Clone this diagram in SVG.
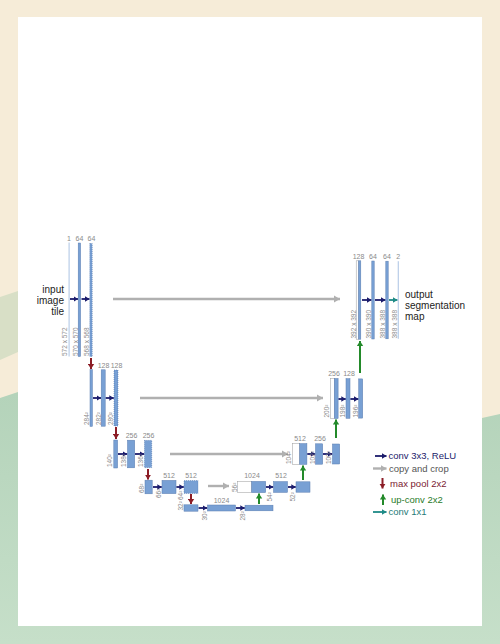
<svg xmlns="http://www.w3.org/2000/svg" width="500" height="644" viewBox="0 0 500 644">
<defs>
<linearGradient id="gr" x1="0" y1="0" x2="0" y2="1">
<stop offset="0" stop-color="#b4d3ba"/>
<stop offset="1" stop-color="#c6dfc9"/>
</linearGradient>
<marker id="mN" markerUnits="userSpaceOnUse" markerWidth="6" markerHeight="6" refX="4.5" refY="3" orient="auto"><path d="M0,0.3 L4.5,3 L0,5.7 z" fill="#1b1b6b"/></marker>
<marker id="mG" markerUnits="userSpaceOnUse" markerWidth="8" markerHeight="8" refX="6" refY="4" orient="auto"><path d="M0,0.5 L6,4 L0,7.5 z" fill="#b0b0b0"/></marker>
<marker id="mR" markerUnits="userSpaceOnUse" markerWidth="7" markerHeight="7" refX="5" refY="3.5" orient="auto"><path d="M0,0.3 L5,3.5 L0,6.7 z" fill="#8c1d26"/></marker>
<marker id="mU" markerUnits="userSpaceOnUse" markerWidth="7" markerHeight="7" refX="5" refY="3.5" orient="auto"><path d="M0,0.3 L5,3.5 L0,6.7 z" fill="#238a2a"/></marker>
<marker id="mT" markerUnits="userSpaceOnUse" markerWidth="6" markerHeight="6" refX="4.5" refY="3" orient="auto"><path d="M0,0.3 L4.5,3 L0,5.7 z" fill="#1e8a86"/></marker>
</defs>
<style>
.b{fill:#78a0d4;stroke:#5a7db0;stroke-width:0.5}
.l{fill:#b9cde8;stroke:none}
.w{fill:#ffffff;stroke:#9a9a9a;stroke-width:0.5}
.d{fill:#78a0d4;stroke:#3d64a0;stroke-width:0.6;stroke-dasharray:0.8 1.2}
.lbl{font-family:"Liberation Sans",Arial,sans-serif;font-size:7px;fill:#8a8a8a;text-anchor:middle}
.rl{font-family:"Liberation Sans",Arial,sans-serif;font-size:6.5px;fill:#8a8a8a}
.t{font-family:"Liberation Sans",Arial,sans-serif;font-size:10px;fill:#222}
.lg{font-family:"Liberation Sans",Arial,sans-serif;font-size:9.5px}
.an{stroke:#1b1b6b;stroke-width:1.8;fill:none;marker-end:url(#mN)}
.ag{stroke:#b0b0b0;stroke-width:2.4;fill:none;marker-end:url(#mG)}
.ar{stroke:#8c1d26;stroke-width:2;fill:none;marker-end:url(#mR)}
.au{stroke:#238a2a;stroke-width:2;fill:none;marker-end:url(#mU)}
.at{stroke:#1e8a86;stroke-width:1.8;fill:none;marker-end:url(#mT)}
</style>
<g id="background">
<rect x="0" y="0" width="500" height="644" fill="#f6ecd8"/>
<polygon points="0,297 18,291 80,300 18,352 0,360" fill="#d8dfc6"/>
<polygon points="0,398 18,392 250,420 482,418 500,414 500,644 0,644" fill="url(#gr)"/>
<rect x="18" y="17" width="464" height="609" fill="#ffffff"/>
</g>
<g id="connectors">
<line class="an" x1="70" y1="299" x2="78" y2="299"/>
<line class="an" x1="81.5" y1="299" x2="89.5" y2="299"/>
<line class="ag" x1="113" y1="299" x2="340" y2="299"/>
<line class="ar" x1="91" y1="358" x2="91" y2="369"/>
<line class="an" x1="93" y1="398" x2="101" y2="398"/>
<line class="an" x1="105.5" y1="398" x2="113.8" y2="398"/>
<line class="ag" x1="140" y1="398" x2="323" y2="398"/>
<line class="ar" x1="116" y1="427" x2="116" y2="439"/>
<line class="an" x1="118" y1="454" x2="127.3" y2="454"/>
<line class="an" x1="135" y1="454" x2="144.3" y2="454"/>
<line class="ag" x1="170" y1="454" x2="288" y2="454"/>
<line class="ar" x1="148" y1="469" x2="148" y2="479.5"/>
<line class="an" x1="153" y1="487" x2="161.8" y2="487"/>
<line class="an" x1="176.3" y1="487" x2="183.8" y2="487"/>
<line class="ag" x1="208" y1="486" x2="229" y2="486"/>
<line class="ar" x1="191" y1="494" x2="191" y2="504"/>
<line class="an" x1="198.5" y1="508" x2="207.3" y2="508"/>
<line class="an" x1="236" y1="508" x2="244.8" y2="508"/>
<line class="au" x1="259" y1="504" x2="259" y2="493.5"/>
<line class="an" x1="266" y1="487" x2="273.3" y2="487"/>
<line class="an" x1="288" y1="487" x2="295.8" y2="487"/>
<line class="au" x1="303" y1="480" x2="303" y2="465.5"/>
<line class="an" x1="307.2" y1="454" x2="315.3" y2="454"/>
<line class="an" x1="323" y1="454" x2="332.3" y2="454"/>
<line class="au" x1="336" y1="438" x2="336" y2="419.5"/>
<line class="an" x1="338.3" y1="399" x2="345.8" y2="399"/>
<line class="an" x1="350.3" y1="399" x2="358.5" y2="399"/>
<line class="au" x1="360" y1="373" x2="360" y2="341"/>
<line class="an" x1="362" y1="300" x2="371.5" y2="300"/>
<line class="an" x1="375" y1="300" x2="385.5" y2="300"/>
<line class="at" x1="389" y1="300" x2="397.5" y2="300"/>
</g>
<g id="n-input" class="t"><text x="64" y="292.5" text-anchor="end">input</text><text x="64" y="303.5" text-anchor="end">image</text><text x="64" y="314.5" text-anchor="end">tile</text></g>
<g id="n-output" class="t"><text x="405" y="297.5">output</text><text x="405" y="308.5">segmentation</text><text x="405" y="319.5">map</text></g>
<g id="n-d1a"><rect class="l" x="68.5" y="242.5" width="1.2" height="114"/><text class="lbl" x="69" y="240.5">1</text><text class="rl" transform="translate(67.3,356) rotate(-90)">572 x 572</text></g>
<g id="n-d1b"><rect class="b" x="78.2" y="243" width="2.4" height="113.5"/><text class="lbl" x="79.5" y="240.5">64</text><text class="rl" transform="translate(78.3,356) rotate(-90)">570 x 570</text></g>
<g id="n-d1c"><rect class="d" x="89.8" y="243.5" width="2.4" height="113"/><text class="lbl" x="91.5" y="240.5">64</text><text class="rl" transform="translate(89.3,356) rotate(-90)">568 x 568</text></g>
<g id="n-d2a"><rect class="b" x="90" y="369.6" width="2.4" height="56.8"/><text class="rl" transform="translate(89.3,425) rotate(-90)">284²</text></g>
<g id="n-d2b"><rect class="b" x="101.2" y="369.8" width="4" height="56.4"/><text class="lbl" x="103.5" y="368">128</text><text class="rl" transform="translate(101.3,425) rotate(-90)">282²</text></g>
<g id="n-d2c"><rect class="d" x="114" y="370" width="4" height="56"/><text class="lbl" x="116.5" y="368">128</text><text class="rl" transform="translate(113.3,425) rotate(-90)">280²</text></g>
<g id="n-d3a"><rect class="b" x="113.8" y="440" width="3.8" height="28"/><text class="rl" transform="translate(112.3,467) rotate(-90)">140²</text></g>
<g id="n-d3b"><rect class="b" x="127.5" y="440.2" width="7.2" height="27.6"/><text class="lbl" x="131.5" y="438">256</text><text class="rl" transform="translate(126.3,467) rotate(-90)">138²</text></g>
<g id="n-d3c"><rect class="d" x="144.5" y="440.4" width="7.2" height="27.2"/><text class="lbl" x="148.5" y="438">256</text><text class="rl" transform="translate(143.3,467) rotate(-90)">136²</text></g>
<g id="n-d4a"><rect class="b" x="145" y="480.2" width="7.2" height="13.6"/><text class="rl" transform="translate(144.3,493) rotate(-90)">68²</text></g>
<g id="n-d4b"><rect class="b" x="162" y="480.4" width="14" height="13.2"/><text class="lbl" x="169" y="477.5">512</text><text class="rl" transform="translate(161.3,498) rotate(-90)">66²</text></g>
<g id="n-d4c"><rect class="d" x="184" y="480.6" width="14" height="12.8"/><text class="lbl" x="191" y="477.5">512</text><text class="rl" transform="translate(183.3,500) rotate(-90)">64²</text></g>
<g id="n-d5a"><rect class="b" x="184" y="504.8" width="14" height="6.4"/><text class="rl" transform="translate(183.3,510.5) rotate(-90)">32²</text></g>
<g id="n-d5b"><rect class="b" x="207.5" y="505" width="28" height="6"/><text class="lbl" x="221.5" y="502.5">1024</text><text class="rl" transform="translate(207.3,520.5) rotate(-90)">30²</text></g>
<g id="n-d5c"><rect class="b" x="245" y="505.2" width="28" height="5.6"/><text class="rl" transform="translate(245.3,520.5) rotate(-90)">28²</text></g>
<g id="n-u4a"><rect class="w" x="237.7" y="481.4" width="14" height="11.2"/><rect class="b" x="251.7" y="481.4" width="14" height="11.2"/><text class="lbl" x="252" y="477.5">1024</text><text class="rl" transform="translate(237.3,492) rotate(-90)">56²</text></g>
<g id="n-u4b"><rect class="b" x="273.5" y="481.6" width="14" height="10.8"/><text class="lbl" x="281" y="477.5">512</text><text class="rl" transform="translate(272.3,501.5) rotate(-90)">54²</text></g>
<g id="n-u4c"><rect class="b" x="296" y="481.8" width="14" height="10.4"/><text class="rl" transform="translate(295.3,501.5) rotate(-90)">52²</text></g>
<g id="n-u3a"><rect class="w" x="292.5" y="443.6" width="7.2" height="20.8"/><rect class="b" x="299.7" y="443.6" width="7.2" height="20.8"/><text class="lbl" x="300" y="441">512</text><text class="rl" transform="translate(291.3,464) rotate(-90)">104²</text></g>
<g id="n-u3b"><rect class="b" x="315.5" y="443.8" width="7.2" height="20.4"/><text class="lbl" x="320" y="441">256</text><text class="rl" transform="translate(315.3,464) rotate(-90)">102²</text></g>
<g id="n-u3c"><rect class="b" x="332.5" y="444" width="7.2" height="20"/><text class="rl" transform="translate(331.3,464) rotate(-90)">100²</text></g>
<g id="n-u2a"><rect class="w" x="330.5" y="378.5" width="3.8" height="40"/><rect class="b" x="334.3" y="378.5" width="3.8" height="40"/><text class="lbl" x="334" y="376">256</text><text class="rl" transform="translate(328.8,417.5) rotate(-90)">200²</text></g>
<g id="n-u2b"><rect class="b" x="346" y="378.7" width="4" height="39.6"/><text class="lbl" x="349" y="376">128</text><text class="rl" transform="translate(345.1,417.5) rotate(-90)">198²</text></g>
<g id="n-u2c"><rect class="b" x="358.7" y="378.9" width="4" height="39.2"/><text class="rl" transform="translate(357.6,417.5) rotate(-90)">196²</text></g>
<g id="n-u1a"><rect class="w" x="356.2" y="260.8" width="2.3" height="78.4"/><rect class="b" x="358.5" y="260.8" width="2.3" height="78.4"/><text class="lbl" x="358.5" y="258.5">128</text><text class="rl" transform="translate(356.3,338.5) rotate(-90)">392 x 392</text></g>
<g id="n-u1b"><rect class="b" x="371.8" y="261" width="2.4" height="78"/><text class="lbl" x="373" y="258.5">64</text><text class="rl" transform="translate(371.3,338.5) rotate(-90)">390 x 390</text></g>
<g id="n-u1c"><rect class="b" x="385.8" y="261.2" width="2.4" height="77.6"/><text class="lbl" x="387" y="258.5">64</text><text class="rl" transform="translate(385.3,338.5) rotate(-90)">388 x 388</text></g>
<g id="n-u1d"><rect class="l" x="397.7" y="261.2" width="1.2" height="77.6"/><text class="lbl" x="398.3" y="258.5">2</text><text class="rl" transform="translate(396.8,338.5) rotate(-90)">388 x 388</text></g>
<g id="legend">
<line class="an" x1="375" y1="456" x2="386.5" y2="456"/>
<text class="lg" x="388.5" y="459.3" fill="#1b1b6b">conv 3x3, ReLU</text>
<line class="ag" x1="373" y1="468.5" x2="386.5" y2="468.5"/>
<text class="lg" x="389" y="471.8" fill="#555555">copy and crop</text>
<line class="ar" x1="382.5" y1="478" x2="382.5" y2="488.5"/>
<text class="lg" x="390" y="486.8" fill="#7a2030">max pool 2x2</text>
<line class="au" x1="383" y1="505" x2="383" y2="494.5"/>
<text class="lg" x="391" y="503" fill="#2a7a2a">up-conv 2x2</text>
<line class="at" x1="373" y1="512" x2="386.5" y2="512"/>
<text class="lg" x="388.5" y="515.3" fill="#1e7a78">conv 1x1</text>
</g>
</svg>
